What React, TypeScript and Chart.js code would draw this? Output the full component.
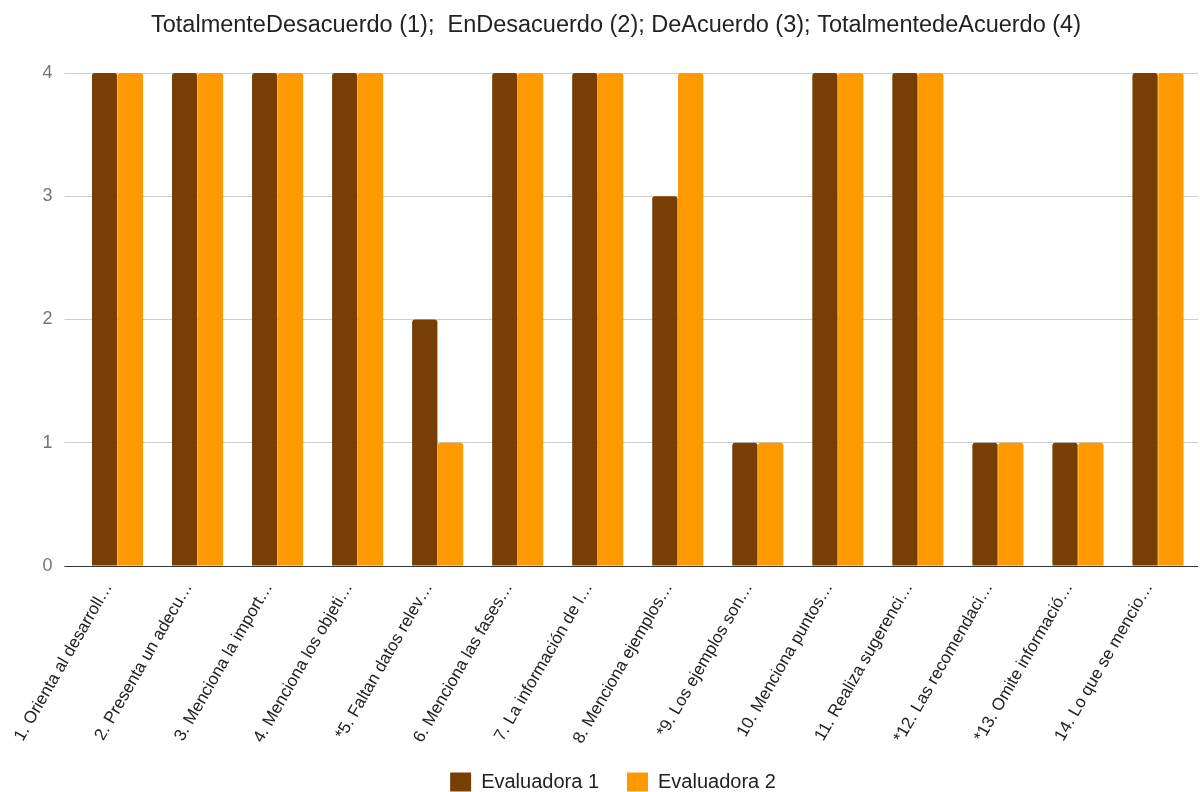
import React, { useEffect, useRef } from "react";
import { Chart, registerables } from "chart.js";

Chart.register(...registerables);

const TITLE =
  "TotalmenteDesacuerdo (1);  EnDesacuerdo (2); DeAcuerdo (3); TotalmentedeAcuerdo (4)";

const categories = [
  "1. Orienta al desarroll…",
  "2. Presenta un adecu…",
  "3. Menciona la import…",
  "4. Menciona los objeti…",
  "*5. Faltan datos relev…",
  "6. Menciona las fases…",
  "7. La información de l…",
  "8. Menciona ejemplos…",
  "*9. Los ejemplos son…",
  "10. Menciona puntos…",
  "11. Realiza sugerenci…",
  "*12. Las recomendaci…",
  "*13. Omite informació…",
  "14. Lo que se mencio…",
];

const evaluadora1 = [4, 4, 4, 4, 2, 4, 4, 3, 1, 4, 4, 1, 1, 4];
const evaluadora2 = [4, 4, 4, 4, 1, 4, 4, 4, 1, 4, 4, 1, 1, 4];

const yTicks = [0, 1, 2, 3, 4];

const FONT = "'Liberation Sans', Arial, sans-serif";

// Title drawn a little right of the canvas centre, above the plot.
const titlePlugin = {
  id: "headerTitle",
  afterDraw(chart: any) {
    const ctx = chart.ctx;
    ctx.save();
    ctx.font = `23.5px ${FONT}`;
    ctx.fillStyle = "#222222";
    ctx.textAlign = "center";
    ctx.textBaseline = "middle";
    ctx.fillText(TITLE, 616, 26);
    ctx.restore();
  },
};

export default function App() {
  const canvasRef = useRef<HTMLCanvasElement | null>(null);

  useEffect(() => {
    if (!canvasRef.current) return;
    const chart = new Chart(canvasRef.current, {
      type: "bar",
      data: {
        labels: categories,
        datasets: [
          {
            label: "Evaluadora 1",
            data: evaluadora1,
            backgroundColor: "#783f04",
            borderRadius: 3,
            borderSkipped: "bottom",
          },
          {
            label: "Evaluadora 2",
            data: evaluadora2,
            backgroundColor: "#ff9900",
            borderRadius: 3,
            borderSkipped: "bottom",
          },
        ],
      },
      plugins: [titlePlugin],
      options: {
        animation: false,
        responsive: true,
        maintainAspectRatio: false,
        layout: { padding: { left: 28, right: 2, top: 73, bottom: -10 } },
        datasets: {
          bar: { categoryPercentage: 0.645, barPercentage: 0.98 },
        },
        plugins: {
          title: { display: false },
          legend: {
            position: "bottom",
            labels: {
              color: "#222222",
              font: { family: FONT, size: 20 },
              boxWidth: 21,
              boxHeight: 19,
              padding: 28,
            },
          },
          tooltip: { enabled: false },
        },
        scales: {
          x: {
            grid: { display: false },
            border: { display: false },
            afterFit: (scale: any) => {
              scale.height = 178;
              // let the slanted labels run past the axis box
              scale._computeLabelArea = () => undefined;
            },
            ticks: {
              autoSkip: false,
              minRotation: 60,
              maxRotation: 60,
              color: "#222222",
              font: { family: FONT, size: 17 },
              padding: 5,
              labelOffset: -9,
            },
          },
          y: {
            min: 0,
            max: 4,
            afterBuildTicks: (scale: any) => {
              scale.ticks = yTicks.map((v) => ({ value: v }));
            },
            afterFit: (scale: any) => {
              scale.width = 49.5;
            },
            border: { display: false },
            grid: {
              color: (ctx: any) => (ctx.tick && ctx.tick.value === 0 ? "#333333" : "#cccccc"),
              drawTicks: true,
              tickLength: 13,
              lineWidth: 1,
            },
            ticks: {
              color: "#757575",
              font: { family: FONT, size: 18 },
              padding: 12,
            },
          },
        },
      },
    });
    return () => chart.destroy();
  }, []);

  return (
    <div
      style={{
        position: "absolute",
        left: 0,
        top: 0,
        width: 1200,
        height: 792,
        background: "#ffffff",
      }}
    >
      <canvas ref={canvasRef} />
    </div>
  );
}
